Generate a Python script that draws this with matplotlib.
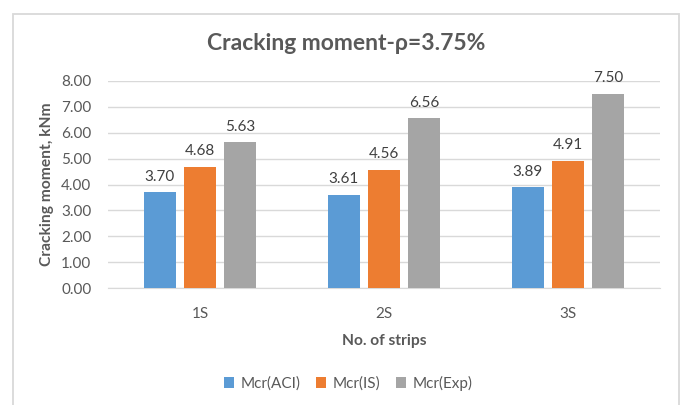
import matplotlib
matplotlib.use("Agg")
import matplotlib.pyplot as plt
from matplotlib.patches import Rectangle
import numpy as np

categories = ["1S", "2S", "3S"]
series_names = ["Mcr(ACI)", "Mcr(IS)", "Mcr(Exp)"]
aci = [3.70, 3.61, 3.89]
is_vals = [4.68, 4.56, 4.91]
exp_vals = [5.63, 6.56, 7.50]
yticks = [0, 1, 2, 3, 4, 5, 6, 7, 8]

colors = ["#5B9BD5", "#ED7D31", "#A5A5A5"]
FONT = ["Lato", "DejaVu Sans"]
plt.rcParams['font.family'] = FONT

W, H = 681, 405
fig = plt.figure(figsize=(W / 100, H / 100), dpi=100)
fig.patches.append(Rectangle((12.5 / W, -10 / H), (678.5 - 12.5) / W, (H - 13.5 + 10) / H,
                             transform=fig.transFigure, fill=False,
                             edgecolor="#D9D9D9", linewidth=1.3))

ax = fig.add_axes([108 / W, 1 - 288 / H, (660 - 108) / W, (288 - 81) / H])
x = np.arange(len(categories))
step = 0.218
width = 0.172
for k, (vals, name) in enumerate(zip([aci, is_vals, exp_vals], series_names)):
    pos = x + (k - 1) * step
    ax.bar(pos, vals, width=width, color=colors[k], label=name, zorder=3)
    for p, v in zip(pos, vals):
        ax.text(p, v + 0.33, f"{v:.2f}", ha="center", va="bottom",
                fontsize=11, color="#404040")

ax.set_xlim(-0.5, len(categories) - 0.5)
ax.set_ylim(0, 8)
ax.set_yticks(yticks)
ax.set_yticklabels([f"{t:.2f}" for t in yticks])
ax.set_xticks(x)
ax.set_xticklabels(categories)
ax.grid(axis="y", color="#D9D9D9", linewidth=1.0, zorder=0)
for s in ["top", "right", "left"]:
    ax.spines[s].set_visible(False)
ax.spines["bottom"].set_color("#D9D9D9")
ax.tick_params(axis="both", length=0, labelsize=11, labelcolor="#595959")
ax.tick_params(axis="y", pad=12)
ax.tick_params(axis="x", pad=14)

ax.set_ylabel("Cracking moment, kNm", fontsize=11.2, fontweight="bold",
              color="#595959", labelpad=5)
ax.set_xlabel("No. of strips", fontsize=11.2, fontweight="bold",
              color="#595959", labelpad=9)

fig.text(346 / W, 1 - 43 / H, "Cracking moment-ρ=3.75%", ha="center", va="center",
         fontsize=16.5, fontweight="bold", color="#595959")

leg = fig.legend(loc="center", bbox_to_anchor=(348 / W, 1 - 383 / H), ncol=3,
                 frameon=False, fontsize=11, handlelength=0.7, handleheight=0.7,
                 handletextpad=0.4, columnspacing=1.0)
for t in leg.get_texts():
    t.set_color("#595959")

fig.savefig("out.png", dpi=100)
